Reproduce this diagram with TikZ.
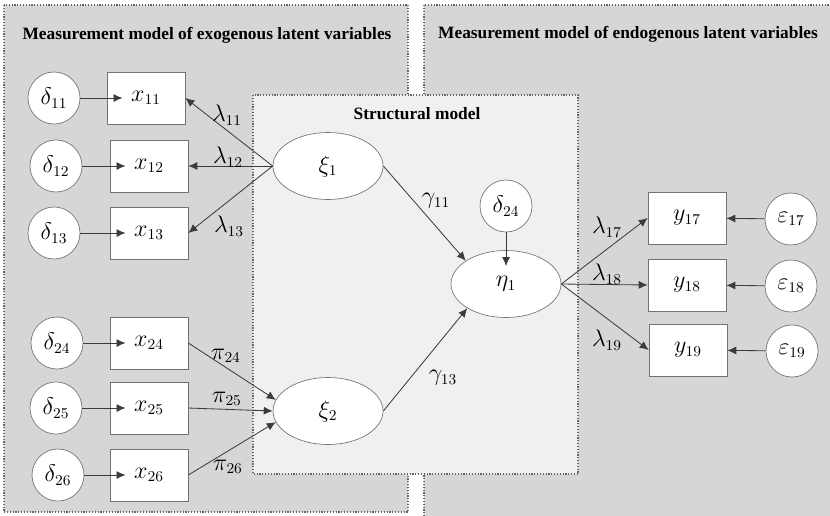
\documentclass[tikz,border=0pt]{standalone}
\usepackage[no-math]{fontspec}
\setmainfont{Liberation Serif}
\usetikzlibrary{arrows.meta}
\usetikzlibrary{shapes.geometric}
\definecolor{panelgray}{RGB}{214,214,214}
\definecolor{innergray}{RGB}{240,240,240}
\definecolor{edgegray}{RGB}{115,115,115}
\definecolor{linkgray}{RGB}{60,60,60}

\tikzset{
  obsbox/.style={draw=edgegray,fill=white,minimum width=46.8pt,minimum height=31.2pt,inner sep=0pt,font=\fontsize{13.5}{15}\selectfont},
  errcirc/.style={circle,draw=edgegray,fill=white,minimum size=31.2pt,inner sep=0pt,font=\fontsize{13.5}{15}\selectfont},
  latent/.style={ellipse,draw=edgegray,fill=white,minimum width=66pt,minimum height=40.2pt,inner sep=0pt,font=\fontsize{13.5}{15}\selectfont},
  link/.style={-{Latex[length=5.4pt,width=4.8pt]},draw=linkgray,line width=0.5pt},
  deeplink/.style={link,shorten >=-9.5pt},
  coef/.style={inner sep=0pt,font=\fontsize{13.5}{15}\selectfont},
  panel/.style={draw=black!60,densely dotted,line width=0.7pt},
  paneltitle/.style={inner sep=0pt,font=\bfseries\fontsize{10.4}{12}\selectfont}
}

\begin{document}
\begin{tikzpicture}[x=0.6pt,y=-0.6pt]
  \useasboundingbox (0,0) rectangle (830,515);
  \clip (0,0) rectangle (830,515);
  \fill[white] (0,0) rectangle (830,515);

  % the three panels
  \draw[panel,fill=panelgray] (4,5) rectangle (408,512);
  \draw[panel,fill=panelgray] (424,5) rectangle (845,530);
  \draw[panel,fill=innergray] (253,95) rectangle (578,474);
  \node[paneltitle] (exotitle) at (207,35) {Measurement model of exogenous latent variables};
  \node[paneltitle] (endotitle) at (628,34) {Measurement model of endogenous latent variables};
  \node[paneltitle] (structitle) at (417,114) {Structural model};

  % exogenous indicators
  \node[errcirc] (d11) at (54,98) {$\delta_{11}$};
  \node[errcirc] (d12) at (56,166) {$\delta_{12}$};
  \node[errcirc] (d13) at (54,233) {$\delta_{13}$};
  \node[obsbox] (x11) at (146,98) {$x_{11}$};
  \node[obsbox] (x12) at (149,166) {$x_{12}$};
  \node[obsbox] (x13) at (149,233) {$x_{13}$};

  \node[errcirc] (d24) at (57,343) {$\delta_{24}$};
  \node[errcirc] (d25) at (56,408) {$\delta_{25}$};
  \node[errcirc] (d26) at (58,475) {$\delta_{26}$};
  \node[obsbox] (x24) at (149,343) {$x_{24}$};
  \node[obsbox] (x25) at (149,408) {$x_{25}$};
  \node[obsbox] (x26) at (149,475) {$x_{26}$};

  % latent variables
  \node[latent] (xi1) at (328,166) {$\xi_1$};
  \node[latent] (xi2) at (328,411) {$\xi_2$};
  \node[latent] (eta1) at (506,284) {$\eta_1$};
  \node[errcirc] (z24) at (506,206) {$\delta_{24}$};

  % endogenous indicators
  \node[obsbox] (y17) at (687,218) {$y_{17}$};
  \node[obsbox] (y18) at (687,285) {$y_{18}$};
  \node[obsbox] (y19) at (688,350) {$y_{19}$};
  \node[errcirc] (e17) at (791,219) {$\varepsilon_{17}$};
  \node[errcirc] (e18) at (791,286) {$\varepsilon_{18}$};
  \node[errcirc] (e19) at (792,351) {$\varepsilon_{19}$};

  % paths
  \draw[deeplink] (d11) -- (x11);
  \draw[deeplink] (d12) -- (x12);
  \draw[deeplink] (d13) -- (x13);
  \draw[deeplink] (d24) -- (x24);
  \draw[deeplink] (d25) -- (x25);
  \draw[deeplink] (d26) -- (x26);

  \draw[link] (xi1.west) -- (x11.east);
  \draw[link] (xi1.west) -- (x12.east);
  \draw[link] (xi1.west) -- (x13.east);

  \draw[link] (x24.east) -- (xi2.168);
  \draw[link] (x25.east) -- (xi2.west);
  \draw[link] (x26.east) -- (xi2.192);

  \draw[link] (xi1.east) -- (eta1.150);
  \draw[link] (xi2.east) -- (eta1.212);
  \draw[deeplink] (z24) -- (eta1);

  \draw[link] (eta1.east) -- (y17.west);
  \draw[link] (eta1.east) -- (y18.west);
  \draw[link] (eta1.east) -- (y19.west);
  \draw[link] (e17) -- (y17);
  \draw[link] (e18) -- (y18);
  \draw[link] (e19) -- (y19);

  % coefficients
  \node[coef] (l11) at (227,115) {$\lambda_{11}$};
  \node[coef] (l12) at (228,157) {$\lambda_{12}$};
  \node[coef] (l13) at (229,226) {$\lambda_{13}$};
  \node[coef] (p24) at (226,356) {$\pi_{24}$};
  \node[coef] (p25) at (227,399) {$\pi_{25}$};
  \node[coef] (p26) at (228,467) {$\pi_{26}$};
  \node[coef] (g11) at (436,201) {$\gamma_{11}$};
  \node[coef] (g13) at (443,378) {$\gamma_{13}$};
  \node[coef] (l17) at (607,227) {$\lambda_{17}$};
  \node[coef] (l18) at (607,274) {$\lambda_{18}$};
  \node[coef] (l19) at (607,340) {$\lambda_{19}$};
\end{tikzpicture}
\end{document}
